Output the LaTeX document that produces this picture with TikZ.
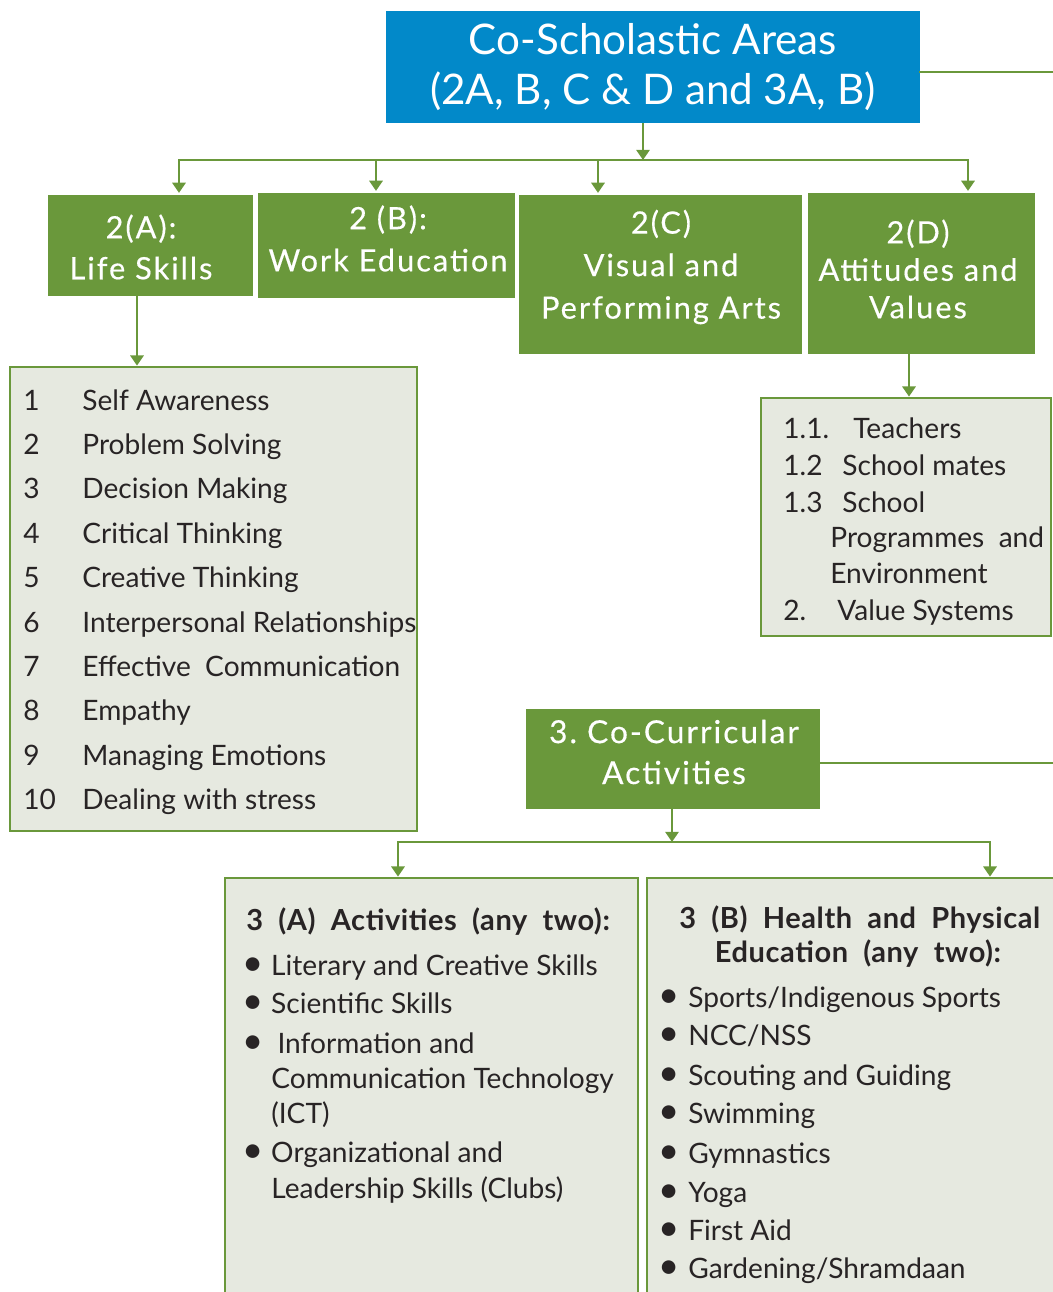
\documentclass[tikz,border=0pt]{standalone}
\usepackage{fontspec}
\setmainfont{Lato}
\newfontfamily\boxfont{Lato}[LetterSpace=6.5, FakeBold=0.4]
\newfontfamily\titlefont{Lato Bold}[LetterSpace=2]
\usetikzlibrary{arrows.meta}

\definecolor{csblue}{RGB}{2,137,201}
\definecolor{csgreen}{RGB}{106,152,59}
\definecolor{cspale}{RGB}{230,233,224}
\definecolor{csink}{RGB}{40,36,37}

% bullet for the activity lists
\newcommand{\blt}[1]{\makebox[#1][l]{\hspace{-2.5pt}\scalebox{1.3}{\textbullet}}}

\begin{document}
\begin{tikzpicture}[x=0.02cm, y=-0.02cm,
    headbox/.style={fill=csblue, text=white, inner sep=0pt, align=center,
      font=\fontsize{24}{28.5}\selectfont},
    areabox/.style={fill=csgreen, inner sep=0pt},
    areatext/.style={text=white, inner sep=0pt, align=center},
    listbox/.style={draw=csgreen, line width=1.6pt, fill=cspale, inner sep=0pt},
    item/.style={anchor=base west, inner sep=0pt, text=csink, font=\fontsize{16}{18}\selectfont},
    title/.style={anchor=base west, inner sep=0pt, text=csink, font=\titlefont\fontsize{16.5}{18}\selectfont},
    link/.style={draw=csgreen, line width=1.5pt, line cap=rect},
    arr/.style={link, line cap=butt, -{Triangle[width=7.5pt,length=5.8pt]}},
  ]
        \clip (0,0) rectangle (1053,1292);

        % Main heading
        \node[headbox, minimum width=10.68cm, minimum height=2.24cm] (head) at (653,67)
          {Co-Scholastic Areas\\(2A, B, C \& D and 3A, B)};
        \coordinate (edgeA) at (1053,72);
        \draw[link] (edgeA -| head.east) -- (edgeA);

        % Areas 2(A) to 2(D)
        \node[areabox, minimum width=4.10cm, minimum height=2.02cm] (lifeA) at (150.5,245.5) {};
        \node[areabox, minimum width=5.14cm, minimum height=2.10cm] (workB) at (386.5,245.5) {};
        \node[areabox, minimum width=5.66cm, minimum height=3.18cm] (artsC) at (660.5,274.5) {};
        \node[areabox, minimum width=4.54cm, minimum height=3.22cm] (valuesD) at (921.5,273.5) {};
        \node[areatext, font=\boxfont\fontsize{17.5}{23.3}\selectfont] (lifeAtxt) at (141,247) {2(A):\\Life Skills};
        \node[areatext, font=\boxfont\fontsize{17.5}{24}\selectfont] (workBtxt) at (388,238.5) {2 (B):\\Work Education};
        \node[areatext, font=\boxfont\fontsize{17.5}{24.2}\selectfont] (artsCtxt) at (661,267) {2(C)\\Visual and\\Performing Arts};
        \node[areatext, font=\boxfont\fontsize{17.5}{21.3}\selectfont] (valuesDtxt) at (918,269) {2(D)\\Attitudes and\\Values};

        \coordinate (busA) at (643,160);
        \coordinate (tA) at (179,160);
        \coordinate (tB) at (376,160);
        \coordinate (tC) at (598,160);
        \coordinate (tD) at (968,160);
        \draw[arr] (busA |- head.south) -- (busA);
        \draw[link] (tA) -- (tD);
        \draw[arr] (tA) -- ([yshift=1pt]tA |- lifeA.north);
        \draw[arr] (tB) -- ([yshift=1pt]tB |- workB.north);
        \draw[arr] (tC) -- ([yshift=1pt]tC |- artsC.north);
        \draw[arr] (tD) -- ([yshift=1pt]tD |- valuesD.north);

        % Life skills list
        \node[listbox, minimum width=8.14cm, minimum height=9.28cm] (skills) at (213.5,599) {};
        \coordinate (dA) at (137,296);
        \draw[arr] (dA) -- (dA |- skills.north);
        \node[item] (ls1) at (23,410) {\makebox[33.6pt][l]{1}Self Awareness};
        \node[item] (ls2) at (23,454) {\makebox[33.6pt][l]{2}Problem Solving};
        \node[item] (ls3) at (23,498) {\makebox[33.6pt][l]{3}Decision Making};
        \node[item] (ls4) at (23,543) {\makebox[33.6pt][l]{4}Critical Thinking};
        \node[item] (ls5) at (23,587) {\makebox[33.6pt][l]{5}Creative Thinking};
        \node[item] (ls6) at (23,632) {\makebox[33.6pt][l]{6}Interpersonal Relationships};
        \node[item] (ls7) at (23,676) {\makebox[33.6pt][l]{7}Effective\ \ Communication};
        \node[item] (ls8) at (23,720) {\makebox[33.6pt][l]{8}Empathy};
        \node[item] (ls9) at (23,765) {\makebox[33.6pt][l]{9}Managing\ Emotions};
        \node[item] (ls10) at (23,809) {\makebox[33.6pt][l]{10}Dealing with stress};

        % Attitudes and values list
        \node[listbox, minimum width=5.80cm, minimum height=4.76cm] (values) at (906,517) {};
        \coordinate (dD) at (909,354);
        \draw[arr] (dD) -- (dD |- values.north);
        \node[item] (av1) at (783,438) {\makebox[39.8pt][l]{1.1.}Teachers};
        \node[item] (av2) at (783,475) {\makebox[33.6pt][l]{1.2}School mates};
        \node[item] (av3) at (783,512) {\makebox[33.6pt][l]{1.3}School};
        \node[item] (av4) at (830,547) {Programmes\ \ and};
        \node[item] (av5) at (830,583) {Environment};
        \node[item] (av6) at (783,620) {\makebox[30.7pt][l]{2.}Value Systems};

        % Co-curricular activities
        \node[areabox, minimum width=5.88cm, minimum height=2.00cm] (cca) at (673,759) {};
        \node[areatext, font=\boxfont\fontsize{18}{23.3}\selectfont] (ccatxt) at (674,752) {3.\ Co-Curricular\\Activities};
        \coordinate (edgeB) at (1053,763);
        \draw[link] (edgeB -| cca.east) -- (edgeB);

        \node[listbox, minimum width=8.26cm, minimum height=8.84cm] (act) at (431.5,1099) {};
        \node[listbox, minimum width=8.66cm, minimum height=8.84cm] (hpe) at (863.5,1099) {};
        \coordinate (busB) at (672,842);
        \coordinate (tE) at (398,842);
        \coordinate (tF) at (990,842);
        \draw[arr] (busB |- cca.south) -- (busB);
        \draw[link] (tE) -- (tF);
        \draw[arr] (tE) -- (tE |- act.north);
        \draw[arr] (tF) -- (tF |- hpe.north);

        % 3(A) activities
        \node[title] (actT) at (246,930) {3\ \ (A)\ \ Activities\ \ (any\ \ two):};
        \node[item] (ac1) at (247,975) {\blt{13.6pt}Literary and Creative Skills};
        \node[item] (ac2) at (247,1013) {\blt{13.6pt}Scientific Skills};
        \node[item] (ac3) at (247,1053) {\blt{17.2pt}Information and};
        \node[item] (ac4) at (271,1088) {Communication Technology};
        \node[item] (ac5) at (271,1123) {(ICT)};
        \node[item] (ac6) at (247,1162) {\blt{13.6pt}Organizational\ and};
        \node[item] (ac7) at (271,1198) {Leadership Skills (Clubs)};

        % 3(B) health and physical education
        \node[title] (hpeT) at (679,928) {3\ \ (B)\ \ Health\ \ and\ \ Physical};
        \node[title, anchor=base] (hpeU) at (858,962) {Education\ \ (any\ \ two):};
        \node[item] (hp1) at (663,1007) {\blt{14.2pt}Sports/Indigenous\ Sports};
        \node[item] (hp2) at (663,1045) {\blt{14.2pt}NCC/NSS};
        \node[item] (hp3) at (663,1085) {\blt{14.2pt}Scouting and Guiding};
        \node[item] (hp4) at (663,1123) {\blt{14.2pt}Swimming};
        \node[item] (hp5) at (663,1163) {\blt{14.2pt}Gymnastics};
        \node[item] (hp6) at (663,1202) {\blt{14.2pt}Yoga};
        \node[item] (hp7) at (663,1240) {\blt{14.2pt}First Aid};
        \node[item] (hp8) at (663,1278) {\blt{14.2pt}Gardening/Shramdaan};

\end{tikzpicture}
\end{document}
